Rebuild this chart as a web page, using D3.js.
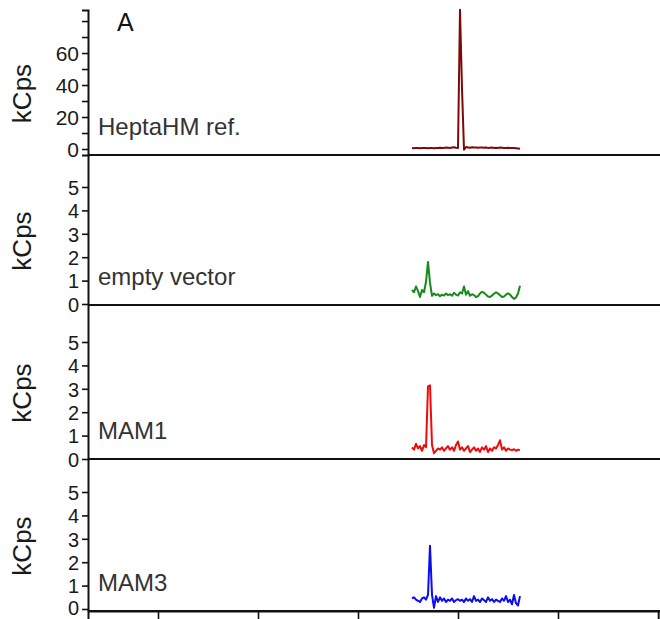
<!DOCTYPE html>
<html>
<head>
<meta charset="utf-8">
<script src="https://cdn.jsdelivr.net/npm/d3@7"></script>
<style>
  body { margin: 0; background: #fff; }
  text { font-family: "Liberation Sans", Arial, Helvetica, sans-serif; }
</style>
</head>
<body>
<svg id="chart" width="660" height="619"></svg>
<script>
// Retention time (min) of each sample point
const times = [3.54, 3.56, 3.58, 3.60, 3.62, 3.64, 3.66, 3.68, 3.70, 3.72,
               3.74, 3.76, 3.78, 3.80, 3.82, 3.84, 3.86, 3.88, 3.90, 3.92,
               3.94, 3.96, 3.98, 4.00, 4.02, 4.04, 4.06, 4.08, 4.10, 4.12,
               4.14, 4.16, 4.18, 4.20, 4.22, 4.24, 4.26, 4.28, 4.30, 4.32,
               4.34, 4.36, 4.38, 4.40, 4.42, 4.44, 4.46, 4.48, 4.50, 4.52,
               4.54, 4.56, 4.58, 4.60, 4.62];

// Signal intensity (kCps) per trace
const heptaRef = [0.6, 0.5, 0.7, 0.6, 0.5, 0.6, 0.7, 0.6, 0.5, 0.6,
                  0.7, 0.5, 0.6, 0.7, 0.8, 0.6, 0.7, 0.9, 0.8, 0.6,
                  0.9, 1.1, 0.8, 0.7, 87, 38, -0.4, 1.2, 1.0, 0.8,
                  1.1, 0.9, 1.0, 0.8, 0.9, 1.0, 0.8, 0.9, 0.7, 0.8,
                  0.9, 0.7, 0.8, 0.7, 0.9, 0.8, 0.6, 0.7, 0.8, 0.7,
                  0.6, 0.7, 0.5, 0.3, 0.1];

const emptyVector = [0.6, 0.5, 0.75, 0.55, 0.3, 0.6, 0.5, 0.95, 1.8, 0.9,
                     0.35, 0.45, 0.38, 0.42, 0.33, 0.4, 0.36, 0.45, 0.38, 0.42,
                     0.35, 0.48, 0.4, 0.36, 0.5, 0.45, 0.75, 0.4, 0.55, 0.35,
                     0.42, 0.38, 0.3, 0.34, 0.45, 0.52, 0.48, 0.4, 0.32, 0.3,
                     0.36, 0.44, 0.5, 0.45, 0.38, 0.3, 0.32, 0.4, 0.46, 0.4,
                     0.3, 0.22, 0.28, 0.45, 0.78];

const mam1 = [0.5, 0.4, 0.65, 0.45, 0.55, 0.35, 0.6, 0.5, 3.1, 3.15,
              0.6, 0.25, 0.35, 0.45, 0.4, 0.5, 0.35, 0.45, 0.55, 0.4,
              0.5, 0.35, 0.6, 0.75, 0.4, 0.5, 0.35, 0.45, 0.55, 0.3,
              0.4, 0.5, 0.35, 0.45, 0.3, 0.5, 0.4, 0.55, 0.3, 0.45,
              0.35, 0.5, 0.45, 0.6, 0.8, 0.4, 0.5, 0.35, 0.45, 0.4,
              0.38, 0.42, 0.35, 0.4, 0.38];

const mam3 = [0.45, 0.5, 0.4, 0.35, 0.3, 0.45, 0.5, 0.4, 0.6, 2.7,
              0.6, 0.05, 0.55, 0.3, 0.5, 0.35, 0.45, 0.3, 0.4, 0.35,
              0.45, 0.3, 0.38, 0.42, 0.35, 0.4, 0.3, 0.45, 0.35, 0.42,
              0.3, 0.55, 0.35, 0.4, 0.3, 0.45, 0.38, 0.3, 0.5, 0.35,
              0.42, 0.3, 0.4, 0.35, 0.3, 0.45, 0.35, 0.55, 0.3, 0.4,
              0.2, 0.6, 0.25, 0.15, 0.55];

const panelNames = ["HeptaHM ref.", "empty vector", "MAM1", "MAM3"];
const refTicks = [0, 10, 20, 30, 40, 50, 60, 70, 80];
const refTickLabels = [0, 20, 40, 60];
const sampleTicks = [0, 1, 2, 3, 4, 5];
const timeTicks = [1, 2, 3, 4, 5, 6];

const svg = d3.select("#chart");
const left = 88, right = 660;

const x = d3.scaleLinear().domain([0.3, 6.02]).range([left, right]);

const panels = [
  { name: panelNames[0], values: heptaRef, color: "#7d0a0a", fs: 21,
    y: d3.scaleLinear().domain([-3.75, 86.9]).range([155, 10]),
    ticks: refTicks, labels: refTickLabels },
  { name: panelNames[1], values: emptyVector, color: "#178a17", fs: 20,
    y: d3.scaleLinear().domain([-1 / 23.4, 149 / 23.4]).range([305, 155]),
    ticks: sampleTicks, labels: sampleTicks },
  { name: panelNames[2], values: mam1, color: "#f20a0a", fs: 20,
    y: d3.scaleLinear().domain([0, 154 / 23.4]).range([459, 305]),
    ticks: sampleTicks, labels: sampleTicks },
  { name: panelNames[3], values: mam3, color: "#0c0cf0", fs: 20,
    y: d3.scaleLinear().domain([-2 / 23.4, 150 / 23.4]).range([611, 459]),
    ticks: sampleTicks, labels: sampleTicks }
];

const line = d3.line();

panels.forEach((p, k) => {
  const g = svg.append("g");
  const [bottom, top] = p.y.range();

  // trace
  g.append("path")
    .datum(times.map((t, i) => [x(t), p.y(p.values[i])]))
    .attr("d", line)
    .attr("fill", "none")
    .attr("stroke", p.color)
    .attr("stroke-width", 2)
    .attr("stroke-linejoin", "round");

  // y axis
  const axis = d3.axisLeft(p.y)
    .tickValues(p.ticks)
    .tickSize(6)
    .tickSizeOuter(k === 0 ? 6 : 0)
    .tickFormat(d => p.labels.includes(d) ? d : "");
  const ga = g.append("g").attr("transform", `translate(${left},0)`).call(axis);
  ga.select(".domain").attr("stroke", "#111").attr("stroke-width", 2);
  ga.selectAll(".tick line").attr("stroke", "#111").attr("stroke-width", 1.6);
  ga.selectAll(".tick text")
    .attr("x", -9)
    .attr("dy", d => (k === 3 && d === 0) ? "0.25em" : "0.36em")
    .style("font-size", p.fs + "px")
    .attr("fill", "#1a1a1a");

  // panel baseline / divider
  g.append("line")
    .attr("x1", left).attr("x2", right)
    .attr("y1", bottom).attr("y2", bottom)
    .attr("stroke", "#111").attr("stroke-width", 2);

  // y title
  const cy = (top + bottom) / 2 + 11;
  g.append("text")
    .attr("transform", `translate(31,${cy}) rotate(-90)`)
    .attr("text-anchor", "middle")
    .style("font-size", "26px")
    .attr("fill", "#1a1a1a")
    .text("kCps");

  // sample name
  g.append("text")
    .attr("x", 98)
    .attr("y", bottom - 20)
    .style("font-size", "24px")
    .attr("fill", "#333")
    .text(p.name);
});

// time axis along the bottom
const xAxis = d3.axisBottom(x).tickValues(timeTicks).tickSize(8).tickSizeOuter(8).tickFormat("");
const gx = svg.append("g").attr("transform", "translate(0,611)").call(xAxis);
gx.select(".domain").attr("stroke", "#111").attr("stroke-width", 2);
gx.selectAll(".tick line").attr("stroke", "#111").attr("stroke-width", 1.6);

// panel letter
svg.append("text")
  .attr("x", 117).attr("y", 31)
  .style("font-size", "25px")
  .attr("fill", "#111")
  .text("A");
</script>
</body>
</html>
